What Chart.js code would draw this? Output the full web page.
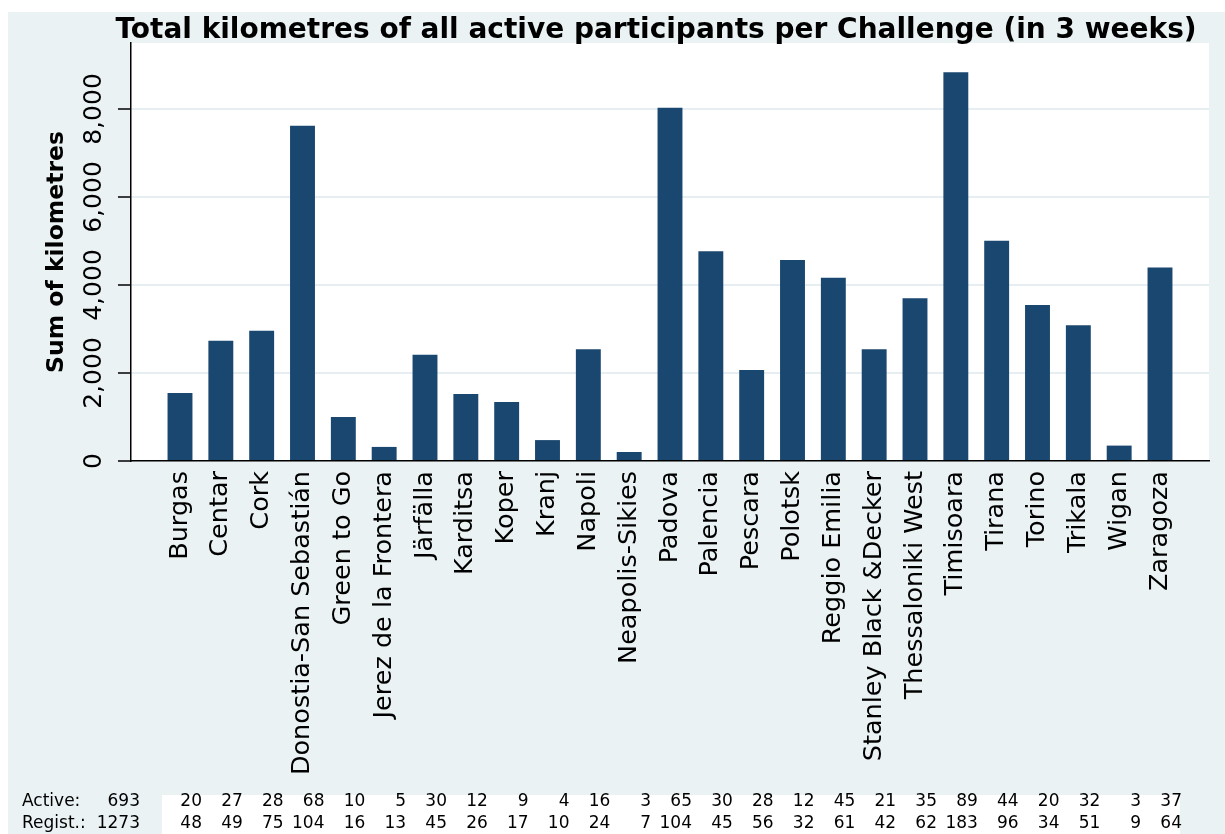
<!DOCTYPE html>
<html>
<head>
<meta charset="utf-8">
<title>Total kilometres per Challenge</title>
<script src="https://cdn.jsdelivr.net/npm/chart.js@4.4.1/dist/chart.umd.min.js"></script>
<style>
    html, body { margin: 0; padding: 0; background: #fff; }
    #wrap { position: absolute; left: 8px; top: 12px; width: 1217px; height: 822px; background: #eaf2f3; }
</style>
</head>
<body>
<div id="wrap"><canvas id="kmChart"></canvas></div>
<script>
// Challenge names (x axis)
const challenges = [
    'Burgas', 'Centar', 'Cork', 'Donostia-San Sebastián', 'Green to Go',
    'Jerez de la Frontera', 'Järfälla', 'Karditsa', 'Koper', 'Kranj',
    'Napoli', 'Neapolis-Sikies', 'Padova', 'Palencia', 'Pescara',
    'Polotsk', 'Reggio Emilia', 'Stanley Black &Decker', 'Thessaloniki West', 'Timisoara',
    'Tirana', 'Torino', 'Trikala', 'Wigan', 'Zaragoza'
];

// Sum of kilometres
const kilometres = [
    1545, 2735, 2960, 7620, 1000,
    320, 2415, 1525, 1340, 475,
    2540, 205, 8030, 4765, 2070,
    4570, 4165, 2540, 3700, 8835,
    5005, 3545, 3085, 350, 4400
];

// Participant table under the chart
const activeUsers = [20, 27, 28, 68, 10, 5, 30, 12, 9, 4, 16, 3, 65, 30, 28, 12, 45, 21, 35, 89, 44, 20, 32, 3, 37];
const registered = [48, 49, 75, 104, 16, 13, 45, 26, 17, 10, 24, 7, 104, 45, 56, 32, 61, 42, 62, 183, 96, 34, 51, 9, 64];

const yTicks = [0, 2000, 4000, 6000, 8000];

const FONT = '"DejaVu Sans", Verdana, sans-serif';
Chart.defaults.font.family = FONT;
Chart.defaults.color = '#000';

// white plot region behind the bars
const plotBackground = {
    id: 'plotBackground',
    beforeDraw(chart) {
        const { ctx, chartArea: a } = chart;
        ctx.save();
        ctx.fillStyle = '#fff';
        ctx.fillRect(a.left, a.top, a.right - a.left, a.bottom - a.top);
        ctx.restore();
    }
};

// title, rotated y tick labels and the participants table
const extras = {
    id: 'extras',
    afterDraw(chart) {
        const ctx = chart.ctx;
        const xs = chart.scales.x;
        const ys = chart.scales.y;
        ctx.save();
        ctx.fillStyle = '#000';

        // title
        ctx.font = 'bold 28px ' + FONT;
        ctx.textAlign = 'center';
        ctx.textBaseline = 'alphabetic';
        ctx.fillText('Total kilometres of all active participants per Challenge (in 3 weeks)', 648, 26);

        // y tick labels, reading upwards
        ctx.font = '25px ' + FONT;
        ctx.textBaseline = 'middle';
        yTicks.forEach(function (v) {
            ctx.save();
            ctx.translate(86, ys.getPixelForValue(v));
            ctx.rotate(-Math.PI / 2);
            ctx.fillText(v.toLocaleString('en-US'), 0, 0);
            ctx.restore();
        });

        // table
        ctx.fillStyle = '#fff';
        ctx.fillRect(154, 783, 1018, 39);
        ctx.fillStyle = '#000';
        ctx.font = '17px ' + FONT;
        const row1 = 790, row2 = 812;
        ctx.textAlign = 'left';
        ctx.fillText('Active:', 14, row1);
        ctx.fillText('Regist.:', 14, row2);
        ctx.textAlign = 'right';
        ctx.fillText(String(activeUsers.reduce((s, v) => s + v, 0)), 132, row1);
        ctx.fillText(String(registered.reduce((s, v) => s + v, 0)), 132, row2);
        challenges.forEach(function (c, i) {
            const px = xs.getPixelForValue(i) + 22;
            ctx.fillText(String(activeUsers[i]), px, row1);
            ctx.fillText(String(registered[i]), px, row2);
        });
        ctx.restore();
    }
};

new Chart(document.getElementById('kmChart'), {
    type: 'bar',
    data: {
        datasets: [{
            label: 'Sum of kilometres',
            data: kilometres.map((v, i) => ({ x: i, y: v })),
            backgroundColor: '#1a476f',
            borderWidth: 0,
            barPercentage: 0.61,
            categoryPercentage: 1
        }]
    },
    options: {
        responsive: true,
        maintainAspectRatio: false,
        animation: false,
        layout: {
            padding: { top: 31, right: 16, bottom: 0, left: 0 }
        },
        plugins: {
            legend: { display: false },
            tooltip: { enabled: false }
        },
        scales: {
            x: {
                type: 'linear',
                min: -1.2,
                max: 25.2,
                offset: false,
                afterBuildTicks: function (scale) {
                    scale.ticks = challenges.map((c, i) => ({ value: i }));
                },
                afterFit: function (scale) {
                    scale.height = 373;
                },
                grid: { display: false, drawTicks: false },
                border: { color: '#000', width: 1.5 },
                ticks: {
                    autoSkip: false,
                    minRotation: 90,
                    maxRotation: 90,
                    padding: 10,
                    color: '#000',
                    font: { size: 25.5 },
                    callback: function (v) { return challenges[v]; }
                }
            },
            y: {
                min: 0,
                max: 9500,
                afterBuildTicks: function (scale) {
                    scale.ticks = yTicks.map(v => ({ value: v }));
                },
                afterFit: function (scale) {
                    scale.width = 123;
                },
                grid: {
                    color: '#e6eef1',
                    lineWidth: 2,
                    tickColor: '#000',
                    tickLength: 13,
                    tickWidth: 1.5
                },
                border: { color: '#000', width: 1.5 },
                ticks: { display: false },
                title: {
                    display: true,
                    text: 'Sum of kilometres',
                    color: '#000',
                    font: { size: 23.5, weight: 'bold' },
                    padding: { top: 35, bottom: 0 }
                }
            }
        }
    },
    plugins: [plotBackground, extras]
});
</script>
</body>
</html>
